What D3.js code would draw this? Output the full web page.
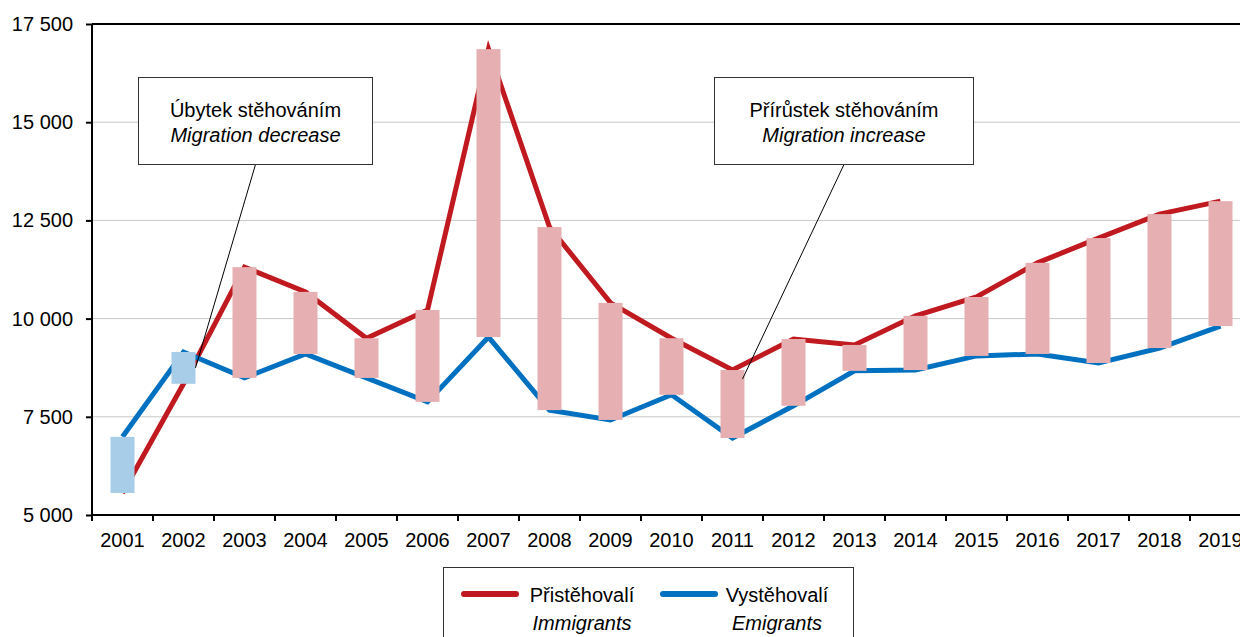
<!DOCTYPE html>
<meta charset="utf-8">
<style>
body { margin: 0; background: #fff; }
svg { font-family: "Liberation Sans", Arial, sans-serif; }
.grid line { stroke: #c8c8c8; stroke-width: 1px; }
.axis path, .axis line { stroke: #000; stroke-width: 2px; }
.axis text { font-size: 20px; fill: #000; }
.note text { font-size: 20px; fill: #000; }
</style>
<svg width="1240" height="637"></svg>
<script src="https://cdnjs.cloudflare.com/ajax/libs/d3/7.8.5/d3.min.js"></script>
<script>

var years = ["2001","2002","2003","2004","2005","2006","2007","2008","2009","2010",
             "2011","2012","2013","2014","2015","2016","2017","2018","2019"];
var immigrants = [5560, 8340, 11310, 10680, 9500, 10220, 16860, 12330, 10400, 9500,
                  8690, 9480, 9330, 10070, 10550, 11420, 12050, 12660, 12990];
var emigrants = [6990, 9150, 8490, 9100, 8490, 7880, 9530, 7670, 7420, 8060,
                 6960, 7780, 8670, 8690, 9050, 9100, 8870, 9250, 9810];
var yTicks = [5000, 7500, 10000, 12500, 15000, 17500];

var svg = d3.select("svg");
var plotLeft = 92, plotTop = 24, plotBottom = 515, bandW = 61;
var plotRight = plotLeft + years.length * bandW;

var x = d3.scaleBand().domain(years).range([plotLeft, plotRight]);
var y = d3.scaleLinear().domain([5000, 17500]).range([plotBottom, plotTop]);
var fmt = d3.formatLocale({ decimal: ",", thousands: " ", grouping: [3] }).format(",.0f");

var rows = years.map(function(yr, i) {
  return { year: yr, imm: immigrants[i], emi: emigrants[i] };
});
function cx(d) { return x(d.year) + x.bandwidth() / 2; }

// gridlines
svg.append("g").attr("class", "grid")
  .selectAll("line").data(yTicks.slice(1, -1)).enter().append("line")
  .attr("x1", plotLeft).attr("x2", plotRight)
  .attr("y1", function(d) { return y(d); }).attr("y2", function(d) { return y(d); });

// top border
svg.append("line")
  .attr("x1", plotLeft).attr("x2", plotRight).attr("y1", y(17500)).attr("y2", y(17500))
  .attr("stroke", "#000").attr("stroke-width", 2);

// axes
svg.append("g").attr("class", "axis")
  .attr("transform", "translate(" + plotLeft + ",0)")
  .call(d3.axisLeft(y).tickValues(yTicks).tickSize(6).tickPadding(13).tickFormat(fmt))
  .call(function(g) { g.select(".domain").attr("d", "M0," + plotBottom + "V" + plotTop); });

var xAxis = svg.append("g").attr("class", "axis")
  .attr("transform", "translate(0," + plotBottom + ")");
xAxis.append("line").attr("x1", plotLeft).attr("x2", plotRight).attr("stroke", "#000").attr("stroke-width", 2);
xAxis.selectAll(".tk").data(d3.range(years.length + 1)).enter().append("line")
  .attr("x1", function(i) { return plotLeft + i * bandW; })
  .attr("x2", function(i) { return plotLeft + i * bandW; })
  .attr("y1", 0).attr("y2", 6).attr("stroke", "#000").attr("stroke-width", 2);
xAxis.selectAll("text").data(years).enter().append("text")
  .attr("x", function(d) { return x(d) + x.bandwidth() / 2; })
  .attr("y", 32).attr("text-anchor", "middle").text(function(d) { return d; });

// lines
var lineImm = d3.line().x(cx).y(function(d) { return y(d.imm); });
var lineEmi = d3.line().x(cx).y(function(d) { return y(d.emi); });
svg.append("path").datum(rows).attr("d", lineImm)
  .attr("fill", "none").attr("stroke", "#c0191f").attr("stroke-width", 5);
svg.append("path").datum(rows).attr("d", lineEmi)
  .attr("fill", "none").attr("stroke", "#0070c0").attr("stroke-width", 5);

// difference bars
var barW = 24;
svg.append("g").selectAll("rect").data(rows).enter().append("rect")
  .attr("x", function(d) { return cx(d) - barW / 2; })
  .attr("width", barW)
  .attr("y", function(d) { return y(Math.max(d.imm, d.emi)); })
  .attr("height", function(d) { return Math.abs(y(d.imm) - y(d.emi)); })
  .attr("fill", function(d) { return d.imm >= d.emi ? "#e6b0b2" : "#a8cde8"; });

// annotations
function note(bx, by, bw, bh, l1, l2, target, ty) {
  var g = svg.append("g").attr("class", "note");
  g.append("line")
    .attr("x1", bx + bw / 2).attr("y1", by + bh)
    .attr("x2", target).attr("y2", ty)
    .attr("stroke", "#000").attr("stroke-width", 1);
  g.append("rect").attr("x", bx).attr("y", by).attr("width", bw).attr("height", bh)
    .attr("fill", "#fff").attr("stroke", "#333").attr("stroke-width", 1);
  g.append("text").attr("x", bx + bw / 2).attr("y", by + 39)
    .attr("text-anchor", "middle").text(l1);
  g.append("text").attr("x", bx + bw / 2).attr("y", by + 64)
    .attr("text-anchor", "middle").attr("font-style", "italic").text(l2);
}
var r02 = rows[1], r11 = rows[10];
note(138.5, 77.5, 234, 87, "Úbytek stěhováním", "Migration decrease",
     cx(r02) + barW / 2, (y(r02.imm) + y(r02.emi)) / 2);
note(714.5, 77.5, 259, 87, "Přírůstek stěhováním", "Migration increase",
     cx(r11) + 10, y(r11.imm) + 9);

// legend
var lg = svg.append("g").attr("class", "note");
lg.append("rect").attr("x", 443.5).attr("y", 567.5).attr("width", 410).attr("height", 90)
  .attr("fill", "#fff").attr("stroke", "#333").attr("stroke-width", 1);
var legendItems = [
  { name: "Přistěhovalí", en: "Immigrants", color: "#c0191f", x0: 464, tx: 582 },
  { name: "Vystěhovalí", en: "Emigrants", color: "#0070c0", x0: 663, tx: 777 }
];
legendItems.forEach(function(it) {
  lg.append("line").attr("x1", it.x0).attr("x2", it.x0 + 52).attr("y1", 594).attr("y2", 594)
    .attr("stroke", it.color).attr("stroke-width", 6).attr("stroke-linecap", "round");
  lg.append("text").attr("x", it.tx).attr("y", 602).attr("text-anchor", "middle").text(it.name);
  lg.append("text").attr("x", it.tx).attr("y", 630).attr("text-anchor", "middle")
    .attr("font-style", "italic").text(it.en);
});

</script>
